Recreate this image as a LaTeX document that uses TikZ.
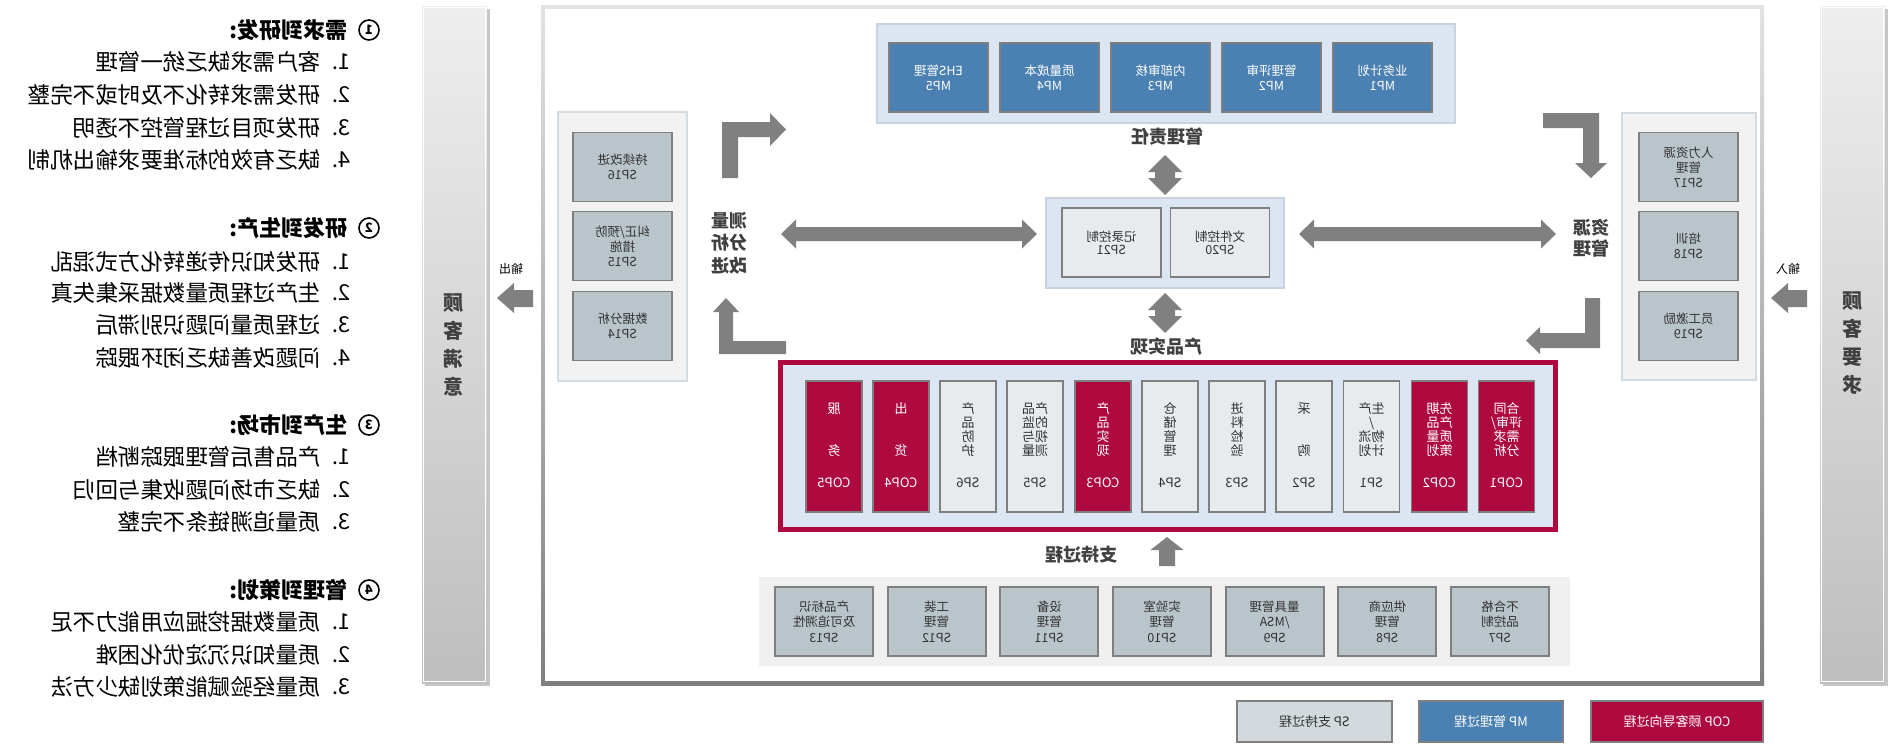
\documentclass[tikz,border=0pt]{standalone}
\usepackage{fontspec}
\setmainfont{Noto Sans CJK SC}
\newcommand\fsz[2]{\fontsize{#1}{#2}\selectfont}
\definecolor{agray}{HTML}{808080}
\definecolor{bline}{HTML}{7F7F7F}
\definecolor{mpblue}{HTML}{4A80B2}
\definecolor{copred}{HTML}{AE0A3F}
\definecolor{spgrey}{HTML}{BAC5CB}
\definecolor{splight}{HTML}{E8EBEE}
\definecolor{lblue}{HTML}{DCE6F2}
\definecolor{lblueline}{HTML}{C8D3DE}
\definecolor{colbg}{HTML}{F2F2F2}
\definecolor{colline}{HTML}{D3DCE2}
\definecolor{txt}{HTML}{333333}
\definecolor{lbl}{HTML}{404040}
\definecolor{legsp}{HTML}{D3DADD}
\definecolor{barTop}{HTML}{EEEEEE}
\definecolor{barBot}{HTML}{BEBEBE}
\definecolor{frTop}{HTML}{E3E3E3}
\definecolor{frBot}{HTML}{7F7F7F}
\definecolor{supbg}{HTML}{EFEFEF}
\tikzset{
  boxbase/.style={draw=bline, line width=1.8pt, inner sep=0pt, align=center, text=txt, font=\fsz{12.5}{15}},
  spbox/.style={boxbase, fill=spgrey, minimum width=99pt, minimum height=69pt},
  supbox/.style={boxbase, fill=spgrey, minimum width=98pt, minimum height=69pt, font=\fsz{12.5}{15.5}},
  docbox/.style={boxbase, fill=splight, minimum width=99pt, minimum height=69pt, font=\fsz{12.5}{13}},
  mpbox/.style={boxbase, fill=mpblue, text=white, minimum width=99pt, minimum height=69pt},
  copbox/.style={boxbase, fill=copred, minimum width=56pt, minimum height=131pt},
  slbox/.style={boxbase, fill=splight, minimum width=56pt, minimum height=131pt},
  intxt/.style={inner sep=0pt, align=center, text=txt, font=\fsz{13}{14}},
  copt/.style={intxt, text=white},
  lbltxt/.style={inner sep=0pt, align=center, text=lbl, font=\bfseries\fsz{18}{22.5}},
  bartxt/.style={inner sep=0pt, align=center, text=lbl, font=\bfseries\fsz{20}{28}},
  smalltxt/.style={inner sep=0pt, font=\fsz{12}{12}},
  headtxt/.style={inner sep=0pt, anchor=west, font=\bfseries\fsz{22}{22}},
  circnum/.style={circle, draw, line width=1.6pt, minimum size=20pt, inner sep=0pt, font=\bfseries\fsz{13}{13}},
  itemnum/.style={inner sep=0pt, anchor=west, font=\fsz{22}{22}},
  itemtxt/.style={inner sep=0pt, anchor=west, font=\fsz{22.5}{22.5}},
  blockarrow/.style={fill=agray, draw=none},
  legbox/.style={draw=bline, line width=1.8pt, inner sep=0pt, minimum height=41pt, font=\fsz{13}{13}},
}
\begin{document}
\begin{tikzpicture}[x=-1pt, y=-1pt, xscale=-1, every node/.append style={transform shape}]
\useasboundingbox (0,0) rectangle (1891,744);

% ---------------- left text list ----------------
\node[circnum] (c1) at (369,30) {1};
\node[headtxt] (h1) at (348,30) {需求到研发:};
\node[itemnum] (n11) at (351,62) {1.};  \node[itemtxt] (t11) at (321,62) {客户需求缺乏统一管理};
\node[itemnum] (n12) at (351,95) {2.};  \node[itemtxt] (t12) at (321,95) {研发需求转化不及时或不完整};
\node[itemnum] (n13) at (351,128) {3.}; \node[itemtxt] (t13) at (321,128) {研发项目过程管控不透明};
\node[itemnum] (n14) at (351,160) {4.}; \node[itemtxt] (t14) at (321,160) {缺乏有效的标准要求输出机制};

\node[circnum] (c2) at (369,228) {2};
\node[headtxt] (h2) at (348,228) {研发到生产:};
\node[itemnum] (n21) at (351,262) {1.}; \node[itemtxt] (t21) at (321,262) {研发知识传递转化方式混乱};
\node[itemnum] (n22) at (351,293) {2.}; \node[itemtxt] (t22) at (321,293) {生产过程质量数据采集失真};
\node[itemnum] (n23) at (351,325) {3.}; \node[itemtxt] (t23) at (321,325) {过程质量问题识别滞后};
\node[itemnum] (n24) at (351,358) {4.}; \node[itemtxt] (t24) at (321,358) {问题改善缺乏闭环跟踪};

\node[circnum] (c3) at (369,425) {3};
\node[headtxt] (h3) at (348,425) {生产到市场:};
\node[itemnum] (n31) at (351,457) {1.}; \node[itemtxt] (t31) at (321,457) {产品售后管理跟踪断档};
\node[itemnum] (n32) at (351,490) {2.}; \node[itemtxt] (t32) at (321,490) {缺乏市场问题收集与回归};
\node[itemnum] (n33) at (351,522) {3.}; \node[itemtxt] (t33) at (321,522) {质量追溯链条不完整};

\node[circnum] (c4) at (369,590) {4};
\node[headtxt] (h4) at (348,590) {管理到策划:};
\node[itemnum] (n41) at (351,622) {1.}; \node[itemtxt] (t41) at (321,622) {质量数据挖掘应用能力不足};
\node[itemnum] (n42) at (351,655) {2.}; \node[itemtxt] (t42) at (321,655) {质量知识沉淀优化困难};
\node[itemnum] (n43) at (351,687) {3.}; \node[itemtxt] (t43) at (321,687) {质量经验赋能策划缺少方法};

% ---------------- side bars ----------------
\fill[gray!45] (425,9) rectangle (490,686);
\shade[top color=barTop, bottom color=barBot] (422,6) rectangle (487,683);
\draw[white, line width=1.5pt] (423.5,7.5) rectangle (485.5,681.5);
\node[bartxt] (cs) at (453,345) {顾\\客\\满\\意};

\fill[gray!45] (1823,9) rectangle (1888,686);
\shade[top color=barTop, bottom color=barBot] (1820,6) rectangle (1885,683);
\draw[white, line width=1.5pt] (1821.5,7.5) rectangle (1883.5,681.5);
\node[bartxt] (cr) at (1852,343) {顾\\客\\要\\求};

\node[smalltxt] (outl) at (511,269) {输出};
\node[smalltxt] (inl) at (1788,269) {输入};
\fill[blockarrow] (497,298) -- (514,283) -- (514,290) -- (533,290) -- (533,307) -- (514,307) -- (514,313) -- cycle;
\fill[blockarrow] (1771,298) -- (1788,283) -- (1788,290) -- (1807,290) -- (1807,307) -- (1788,307) -- (1788,313) -- cycle;

% ---------------- main frame ----------------
\shade[top color=frTop, bottom color=frBot] (541,5) rectangle (1764,685);
\fill[white] (545,9) rectangle (1760,681);

% left column
\draw[fill=colbg, draw=colline, line width=1.5pt] (558,112) rectangle (687,381);
\node[spbox] (sp16) at (622.5,167) {持续改进\\SP16};
\node[spbox] (sp15) at (622.5,246) {纠正/预防\\措施\\SP15};
\node[spbox] (sp14) at (622.5,326) {数据分析\\SP14};

% right column
\draw[fill=colbg, draw=colline, line width=1.5pt] (1622,113) rectangle (1756,380);
\node[spbox] (sp17) at (1688.5,167) {人力资源\\管理\\SP17};
\node[spbox] (sp18) at (1688.5,246) {培训\\SP18};
\node[spbox] (sp19) at (1688.5,326) {员工激励\\SP19};

% management row
\draw[fill=lblue, draw=lblueline, line width=1.5pt] (877,24) rectangle (1455,123);
\node[mpbox] (mp5) at (938.5,77.5) {EHS管理\\MP5};
\node[mpbox] (mp4) at (1049.5,77.5) {质量成本\\MP4};
\node[mpbox] (mp3) at (1160.5,77.5) {内部审核\\MP3};
\node[mpbox] (mp2) at (1271.5,77.5) {管理评审\\MP2};
\node[mpbox] (mp1) at (1382.5,77.5) {业务计划\\MP1};
\node[lbltxt] (lmr) at (1167,137) {管理责任};

% document control
\draw[fill=lblue, draw=lblueline, line width=1.5pt] (1046,198) rectangle (1284,288);
\node[docbox] (sp21) at (1111.5,242.5) {记录控制\\SP21};
\node[docbox] (sp20) at (1220,242.5) {文件控制\\SP20};

\node[lbltxt] (lpr) at (1166,347) {产品实现};
\node[lbltxt] (lma) at (729.5,243) {测量\\分析\\改进};
\node[lbltxt, font=\bfseries\fsz{18}{20.6}] (lrm) at (1591.5,238) {资源\\管理};

% arrows
\fill[blockarrow] (722,178) -- (722,122) -- (770,122) -- (770,113) -- (786,129.5) -- (770,146) -- (770,137) -- (738,137) -- (738,178) -- cycle;
\fill[blockarrow] (786,341) -- (786,354) -- (719,354) -- (719,312) -- (713,312) -- (726,298) -- (739,312) -- (733,312) -- (733,341) -- cycle;
\fill[blockarrow] (1543,113) -- (1599,113) -- (1599,163) -- (1607,163) -- (1591,178) -- (1575,163) -- (1583,163) -- (1583,128) -- (1543,128) -- cycle;
\fill[blockarrow] (1585,298) -- (1600,298) -- (1600,348) -- (1540,348) -- (1540,354) -- (1526,340.5) -- (1540,327) -- (1540,333) -- (1585,333) -- cycle;
\fill[blockarrow] (781,234) -- (796,219.5) -- (796,227) -- (1022,227) -- (1022,219.5) -- (1037,234) -- (1022,248.5) -- (1022,241) -- (796,241) -- (796,248.5) -- cycle;
\fill[blockarrow] (1299,234) -- (1314,219.5) -- (1314,227) -- (1541,227) -- (1541,219.5) -- (1556,234) -- (1541,248.5) -- (1541,241) -- (1314,241) -- (1314,248.5) -- cycle;
\fill[blockarrow] (1165,155) -- (1182,172) -- (1175,172) -- (1175,178) -- (1182,178) -- (1165,195) -- (1148,178) -- (1155,178) -- (1155,172) -- (1148,172) -- cycle;
\fill[blockarrow] (1165,293) -- (1182,310) -- (1175,310) -- (1175,316) -- (1182,316) -- (1165,333) -- (1148,316) -- (1155,316) -- (1155,310) -- (1148,310) -- cycle;
\fill[blockarrow] (1167,537) -- (1183.5,550) -- (1175,550) -- (1175,566) -- (1159,566) -- (1159,550) -- (1150.5,550) -- cycle;

% product realisation
\draw[fill=lblue, draw=copred, line width=5pt] (780.5,362.5) rectangle (1555.5,529.5);
\node[copbox] (cop5) at (834,446.5) {};   \node[copt] (cop5t) at (834,429.5) {服\\[28pt]务};   \node[copt] (cop5c) at (834,483) {COP5};
\node[copbox] (cop4) at (901,446.5) {};   \node[copt] (cop4t) at (901,429.5) {出\\[28pt]货};   \node[copt] (cop4c) at (901,483) {COP4};
\node[slbox] (sp6) at (968,446.5) {};     \node[intxt] (sp6t) at (968,429.5) {产\\品\\防\\护};   \node[intxt] (sp6c) at (968,483) {SP6};
\node[slbox] (sp5) at (1035,446.5) {};    \node[intxt] (sp5t) at (1035,429.5) {产品\\的监\\视与\\测量}; \node[intxt] (sp5c) at (1035,483) {SP5};
\node[copbox] (cop3) at (1103,446.5) {};  \node[copt] (cop3t) at (1103,429.5) {产\\品\\实\\现};  \node[copt] (cop3c) at (1103,483) {COP3};
\node[slbox] (sp4) at (1170,446.5) {};    \node[intxt] (sp4t) at (1170,429.5) {仓\\储\\管\\理};  \node[intxt] (sp4c) at (1170,483) {SP4};
\node[slbox] (sp3) at (1237,446.5) {};    \node[intxt] (sp3t) at (1237,429.5) {进\\料\\检\\验};  \node[intxt] (sp3c) at (1237,483) {SP3};
\node[slbox] (sp2) at (1304,446.5) {};    \node[intxt] (sp2t) at (1304,429.5) {采\\[28pt]购};   \node[intxt] (sp2c) at (1304,483) {SP2};
\node[slbox] (sp1) at (1371.5,446.5) {};  \node[intxt] (sp1t) at (1371.5,429.5) {生产\\/\\物流\\计划}; \node[intxt] (sp1c) at (1371.5,483) {SP1};
\node[copbox] (cop2) at (1439.5,446.5) {}; \node[copt] (cop2t) at (1439.5,429.5) {先期\\产品\\质量\\策划}; \node[copt] (cop2c) at (1439.5,483) {COP2};
\node[copbox] (cop1) at (1506.5,446.5) {}; \node[copt] (cop1t) at (1506.5,429.5) {合同\\评审/\\需求\\分析}; \node[copt] (cop1c) at (1506.5,483) {COP1};

% support processes
\node[lbltxt] (lsp) at (1081,555) {支持过程};
\fill[supbg] (759,577) rectangle (1570,666);
\node[supbox] (sp13) at (824,621.5) {产品标识\\及可追溯性\\SP13};
\node[supbox] (sp12) at (936.7,621.5) {工装\\管理\\SP12};
\node[supbox] (sp11) at (1049.3,621.5) {设备\\管理\\SP11};
\node[supbox] (sp10) at (1162,621.5) {实验室\\管理\\SP10};
\node[supbox] (sp9) at (1274.7,621.5) {量具管理\\/MSA\\SP9};
\node[supbox] (sp8) at (1387.3,621.5) {供应商\\管理\\SP8};
\node[supbox] (sp7) at (1500,621.5) {不合格\\品控制\\SP7};

% legend
\node[legbox, fill=legsp, text=txt, minimum width=155pt] (lgsp) at (1314.5,721.5) {SP 支持过程};
\node[legbox, fill=mpblue, text=white, minimum width=144pt] (lgmp) at (1491,721.5) {MP 管理过程};
\node[legbox, fill=copred, text=white, minimum width=172pt] (lgcop) at (1677,721.5) {COP 顾客导向过程};
\end{tikzpicture}
\end{document}
